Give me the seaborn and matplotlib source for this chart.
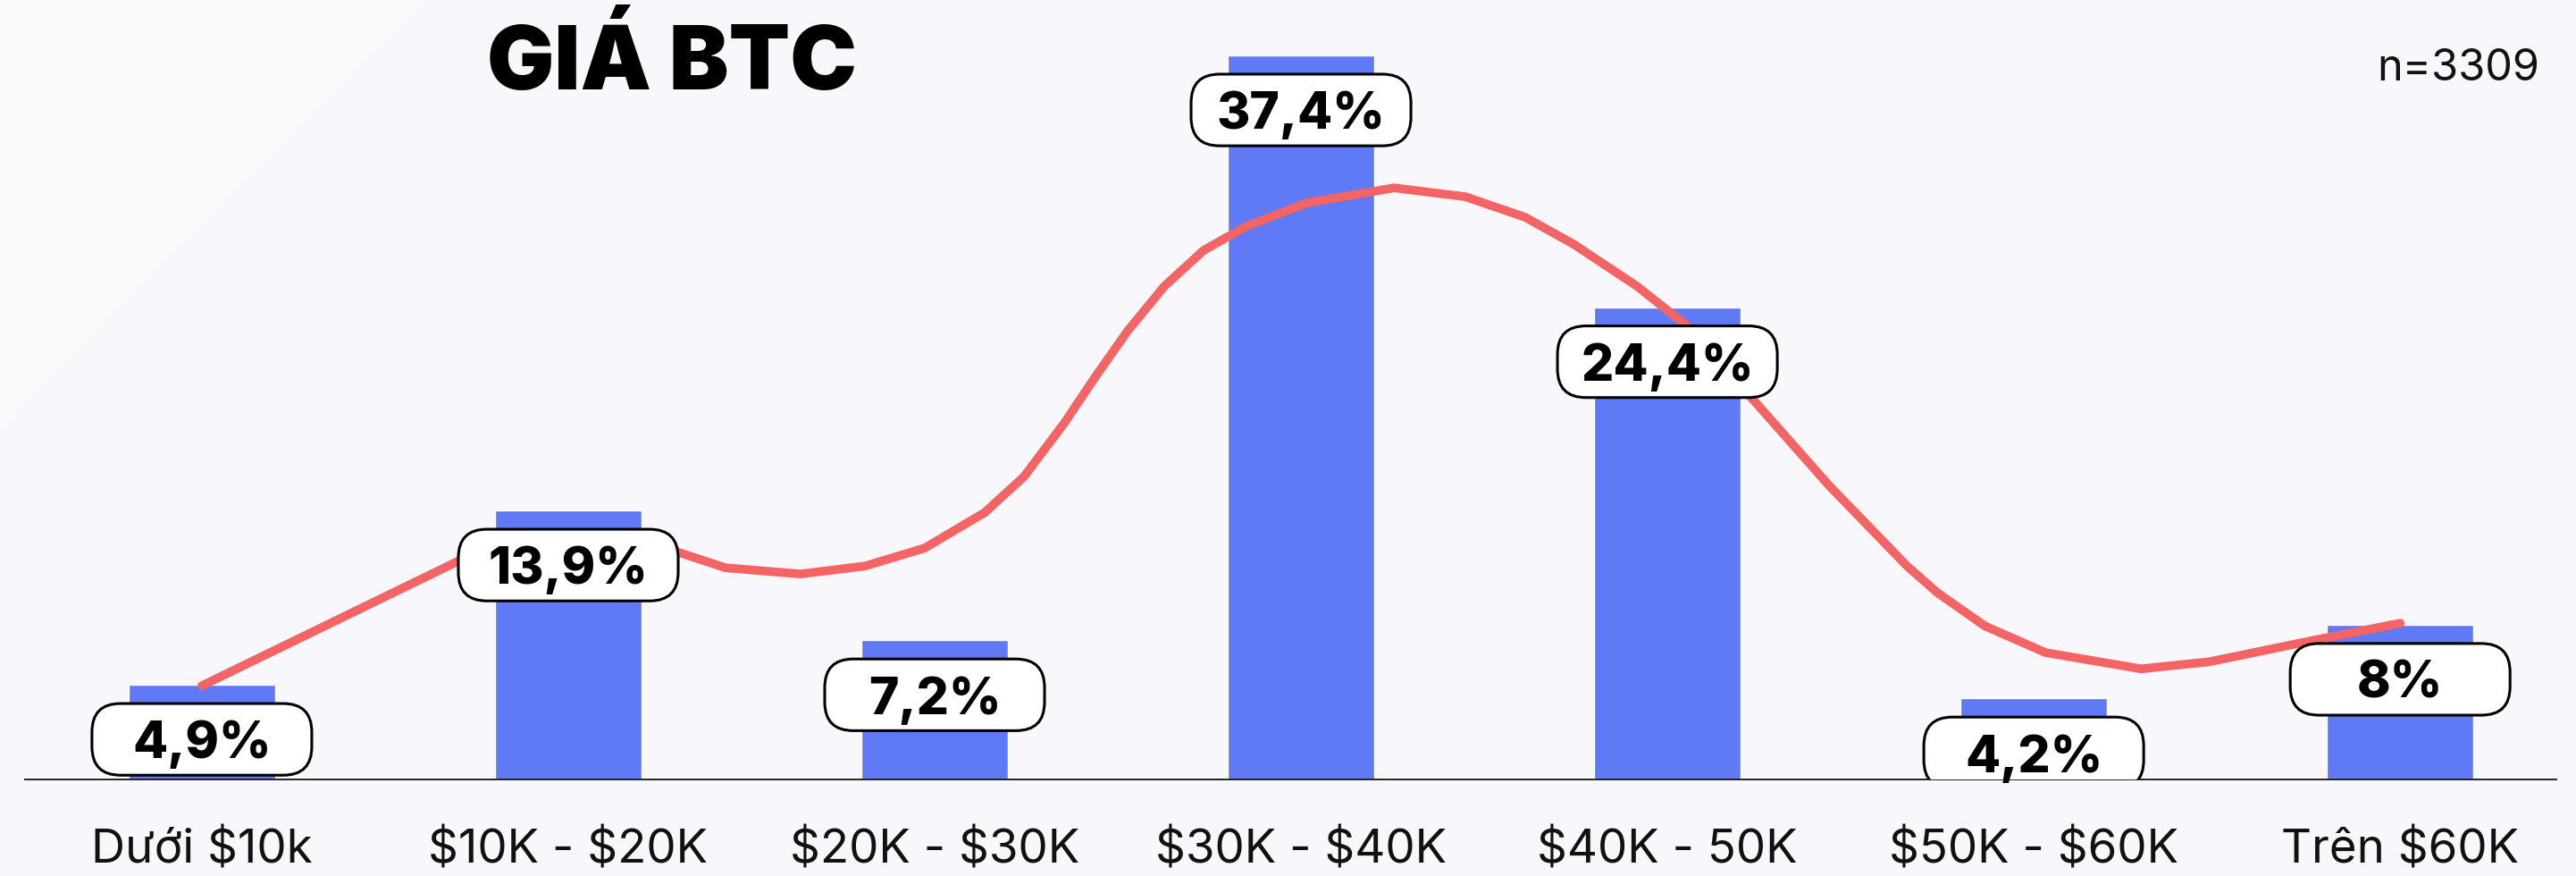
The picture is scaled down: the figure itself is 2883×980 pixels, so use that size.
import numpy as np
import pandas as pd
import matplotlib
matplotlib.use("Agg")
import matplotlib.pyplot as plt
from matplotlib.patches import FancyBboxPatch, Polygon
import seaborn as sns

# data
categories = ["Dưới $10k", "$10K - $20K", "$20K - $30K", "$30K - $40K",
              "$40K - 50K", "$50K - $60K", "Trên $60K"]
values = [4.9, 13.9, 7.2, 37.4, 24.4, 4.2, 8.0]
labels = ["4,9%", "13,9%", "7,2%", "37,4%", "24,4%", "4,2%", "8%"]

# red trend curve (x in category units, y in %)
curve_x = [0.0, 0.698, 0.863, 1.0, 1.156, 1.302, 1.429, 1.634, 1.810, 1.973,
           2.137, 2.244, 2.354, 2.441, 2.527, 2.627, 2.734, 2.851, 3.015, 3.254,
           3.449, 3.612, 3.744, 3.917, 4.049, 4.234, 4.441, 4.654, 4.737, 4.866,
           5.032, 5.293, 5.480, 5.741, 6.0]
curve_y = [4.85, 11.27, 12.00, 12.37, 12.19, 11.73, 10.94, 10.62, 11.03, 11.96,
           13.80, 15.65, 18.42, 20.87, 23.18, 25.48, 27.33, 28.58, 29.78, 30.56,
           30.10, 29.04, 27.65, 25.48, 23.50, 19.62, 15.19, 11.03, 9.65, 7.94,
           6.56, 5.72, 6.09, 7.11, 8.08]

title = "GIÁ BTC"
n_text = "n=3309"

bg = "#f7f7fc"
bar_color = "#6079f5"
line_color = "#f46464"

sns.set_theme(style="white")
plt.rcParams["font.family"] = ["Inter", "DejaVu Sans"]
plt.rcParams["text.parse_math"] = False

fig = plt.figure(figsize=(28.83, 9.8), dpi=100, facecolor=bg)
# faint lighter shape in the top-left corner of the background
fig.patches.append(Polygon([[0, 1], [0.165, 1], [0, 0.51]], closed=True,
                           transform=fig.transFigure, facecolor="white",
                           alpha=0.45, edgecolor="none", zorder=0))

ax = fig.add_axes([0, 0.110, 1, 0.890])
ax.set_facecolor("none")

df = pd.DataFrame({"cat": categories, "val": values})
sns.barplot(data=df, x="cat", y="val", color=bar_color, saturation=1,
            width=0.4, ax=ax, zorder=1)

line_df = pd.DataFrame({"x": curve_x, "y": curve_y})
sns.lineplot(data=line_df, x="x", y="y", color=line_color, linewidth=7.0,
             ax=ax, zorder=2, solid_capstyle="round", solid_joinstyle="round")

ax.set_xlim(-0.551, 6.480)
ax.set_ylim(0, 40.26)
ax.set_xlabel("")
ax.set_ylabel("")
ax.set_yticks([])
ax.set_xticks(range(len(categories)))
ax.set_xticklabels(categories, fontsize=38, color="#111111")
ax.tick_params(axis="x", length=0, pad=40)
for s in ["top", "left", "right"]:
    ax.spines[s].set_visible(False)
ax.spines["bottom"].set_color("#222222")
ax.spines["bottom"].set_linewidth(1.4)
ax.spines["bottom"].set_bounds(-0.483, 6.427)

# label boxes, fixed size, sitting just under each bar top
fig.canvas.draw()
p0 = ax.transData.transform((0, 0))
p1 = ax.transData.transform((1, 1))
aspect = (p1[0] - p0[0]) / (p1[1] - p0[1])
box_w, box_h, offset = 0.60, 3.7, 2.82
for i, (v, lab) in enumerate(zip(values, labels)):
    cy = v - offset
    box = FancyBboxPatch((i - box_w / 2, cy - box_h / 2), box_w, box_h,
                         boxstyle="round,pad=0,rounding_size=0.078",
                         mutation_aspect=aspect, facecolor="white",
                         edgecolor="black", linewidth=2.2, zorder=3)
    ax.add_patch(box)
    ax.text(i, cy, lab, ha="center", va="center_baseline", fontsize=41,
            fontweight="heavy", color="black", zorder=4)

fig.text(0.261, 0.898, title, ha="center", va="baseline", fontsize=72,
         fontweight="black", color="black")
fig.text(0.9858, 0.908, n_text, ha="right", va="baseline", fontsize=35,
         color="#111111")

fig.savefig("out.png", dpi=100, facecolor=bg)
